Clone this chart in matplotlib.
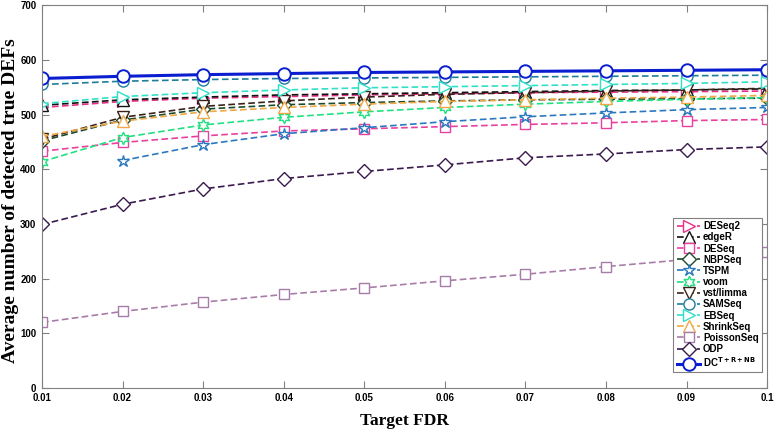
import matplotlib
matplotlib.use("Agg")
import matplotlib.pyplot as plt
import numpy as np

fdr = [0.01, 0.02, 0.03, 0.04, 0.05, 0.06, 0.07, 0.08, 0.09, 0.1]

deseq2 = [513, 524, 530, 533, 536, 538, 540, 541, 542, 543]
edger = [517, 527, 532, 536, 538, 540, 542, 544, 545, 547]
deseq = [433, 449, 461, 470, 474, 478, 482, 485, 489, 491]
nbpseq = [452, 490, 510, 518, 522, 525, 527, 528, 529, 530]
tspm_x = [0.02, 0.03, 0.04, 0.05, 0.06, 0.07, 0.08, 0.09, 0.1]
tspm = [416, 445, 465, 476, 487, 496, 503, 509, 513]
voom = [414, 458, 481, 495, 505, 513, 519, 524, 528, 531]
vst_limma = [455, 495, 515, 525, 532, 537, 540, 543, 545, 548]
samseq = [555, 561, 564, 566, 567, 568, 569, 570, 571, 572]
ebseq = [520, 533, 540, 545, 549, 551, 553, 555, 557, 560]
shrinkseq = [460, 488, 505, 513, 519, 524, 527, 530, 532, 535]
poissonseq = [120, 140, 157, 171, 183, 196, 208, 222, 235, 248]
odp = [299, 336, 364, 383, 396, 408, 421, 428, 436, 441]
dc = [566, 570, 573, 575, 577, 578, 579, 580, 581, 582]

fig = plt.figure(figsize=(7.78, 4.34), dpi=100)
ax = fig.add_axes([0.054, 0.106, 0.932, 0.882])

hexagram = (6, 1, 0)
series = [
    ("DESeq2", fdr, deseq2, "#e8308a", ">", "--", 1.2, 8),
    ("edgeR", fdr, edger, "#111111", "^", "--", 1.2, 8),
    ("DESeq", fdr, deseq, "#e8409e", "s", "--", 1.2, 7),
    ("NBPSeq", fdr, nbpseq, "#1d4a2a", "D", "--", 1.2, 7),
    ("TSPM", tspm_x, tspm, "#2a78c0", "*", "--", 1.2, 9),
    ("voom", fdr, voom, "#20e080", hexagram, "--", 1.2, 9),
    ("vst/limma", fdr, vst_limma, "#3a2218", "v", "--", 1.2, 8),
    ("SAMSeq", fdr, samseq, "#1e7e9a", "o", "--", 1.2, 8),
    ("EBSeq", fdr, ebseq, "#30e0c8", ">", "--", 1.2, 8),
    ("ShrinkSeq", fdr, shrinkseq, "#f0a848", "^", "--", 1.2, 8),
    ("PoissonSeq", fdr, poissonseq, "#a87ca8", "s", "--", 1.2, 7),
    ("ODP", fdr, odp, "#3a1a4e", "D", "--", 1.2, 7),
    (r"DC$^{\mathbf{T+R+NB}}$", fdr, dc, "#0a1ed0", "o", "-", 2.2, 9),
]

for label, xs, ys, col, mk, ls, lw, ms in series:
    ax.plot(xs, ys, linestyle=ls, color=col, linewidth=lw, marker=mk,
            markersize=ms, markerfacecolor="white", markeredgecolor=col,
            markeredgewidth=1.4 if lw > 2 else 1.0, label=label,
            dashes=(4, 2) if ls == "--" else (None, None))

ax.set_xlim(0.01, 0.1)
ax.set_ylim(0, 700)
ax.set_xticks(fdr)
ax.set_xticklabels(["0.01", "0.02", "0.03", "0.04", "0.05", "0.06", "0.07", "0.08", "0.09", "0.1"])
ax.set_yticks(range(0, 701, 100))
for s in ax.spines.values():
    s.set_color("#808080")
ax.tick_params(direction="in", length=5, color="#808080", labelsize=7, top=True, right=True, labeltop=False, labelright=False)
ax.tick_params(axis="y", pad=4)
for t in ax.get_xticklabels() + ax.get_yticklabels():
    t.set_fontweight("bold")
    t.set_family("Liberation Sans")

ax.set_xlabel("Target FDR", fontsize=12.5, fontweight="bold", family="Liberation Serif")
ax.set_ylabel("Average number of detected true DEFs", fontsize=14, fontweight="bold", family="Liberation Serif")
ax.xaxis.set_label_coords(0.5, -0.066)
ax.yaxis.set_label_coords(-0.032, 0.49)

leg = ax.legend(loc="lower right", prop={"family": "Liberation Sans", "weight": "bold", "size": 7},
                handlelength=2.4, labelspacing=0.12, borderpad=0.35, handletextpad=0.3,
                fancybox=False, edgecolor="#808080", framealpha=1, bbox_to_anchor=(1.0, 0.028))
leg.get_frame().set_linewidth(0.8)

fig.savefig("out.png", dpi=100)
